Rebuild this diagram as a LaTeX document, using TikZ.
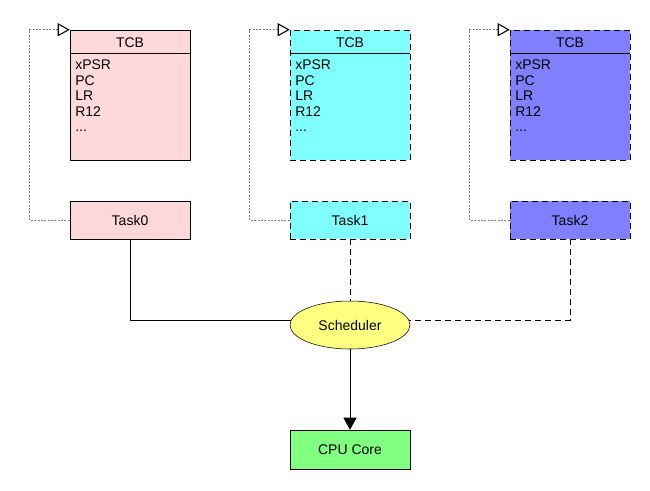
\documentclass[tikz,border=0pt]{standalone}
\usepackage{fontspec}
\setmainfont{Liberation Sans}
\usetikzlibrary{arrows.meta,positioning,shapes.geometric}

\definecolor{tcbpink}{RGB}{255,217,217}
\definecolor{tcbcyan}{RGB}{128,255,255}
\definecolor{tcbblue}{RGB}{128,128,255}
\definecolor{schedyellow}{RGB}{255,255,128}
\definecolor{coregreen}{RGB}{128,255,128}

\tikzset{
  every node/.style={font=\fontsize{10.5}{12}\selectfont},
  dashline/.style={dash pattern=on 4.5pt off 3pt},
  plainline/.style={solid},
  tcbbox/.style={draw, minimum width=90pt, minimum height=97.5pt, inner sep=0pt},
  taskbox/.style={draw, minimum width=90pt, minimum height=28.5pt, inner sep=0pt},
  field/.style={anchor=base west, inner sep=0pt},
  dotlink/.style={draw=gray, dash pattern=on 1.5pt off 1pt,
    -{Triangle[open, length=9pt, width=9.75pt, color=black, line width=0.8pt]}},
  runlink/.style={-{Triangle[length=9pt, width=9.75pt]}}
}

\begin{document}
\begin{tikzpicture}[x=0.75pt, y=-0.75pt]

  \useasboundingbox (0,0) rectangle (650,490);

  % task control blocks and tasks
  \foreach \i/\x/\col/\ln in {0/130/tcbpink/plainline,
                              1/350/tcbcyan/dashline,
                              2/570/tcbblue/dashline} {
    \node[tcbbox, \ln, fill=\col] (TCB\i) at (\x,95) {};
    \draw (\x-60,53) -- (\x+60,53);
    \node (TCB\i title) at (\x,43) {TCB};
    \node[field] (TCB\i xpsr) at (\x-55,69.5)  {xPSR};
    \node[field] (TCB\i pc)   at (\x-55,85)    {PC};
    \node[field] (TCB\i lr)   at (\x-55,100.5) {LR};
    \node[field] (TCB\i r12)  at (\x-55,116)   {R12};
    \node[field] (TCB\i more) at (\x-55,131.5) {...};
    \node[taskbox, \ln, fill=\col] (Task\i) at (\x,220) {Task\i};
    \draw[dotlink] (Task\i.west) -- ++(-40,0) |- (TCB\i.north west);
  }

  \node[draw, ellipse, fill=schedyellow, minimum width=90pt,
        minimum height=36pt, inner sep=0pt] (Sched) at (350,325) {Scheduler};
  \node[taskbox, fill=coregreen, minimum height=29.25pt] (Core) at (350,449.5) {CPU Core};

  % connections
  \draw (Task0.south) |- (Sched.175);
  \draw[dashline] (Task1.south) -- (Sched.north);
  \draw[dashline] (Task2.south) |- (Sched.5);
  \draw[runlink] (Sched.south) -- (Core.north);

\end{tikzpicture}
\end{document}
